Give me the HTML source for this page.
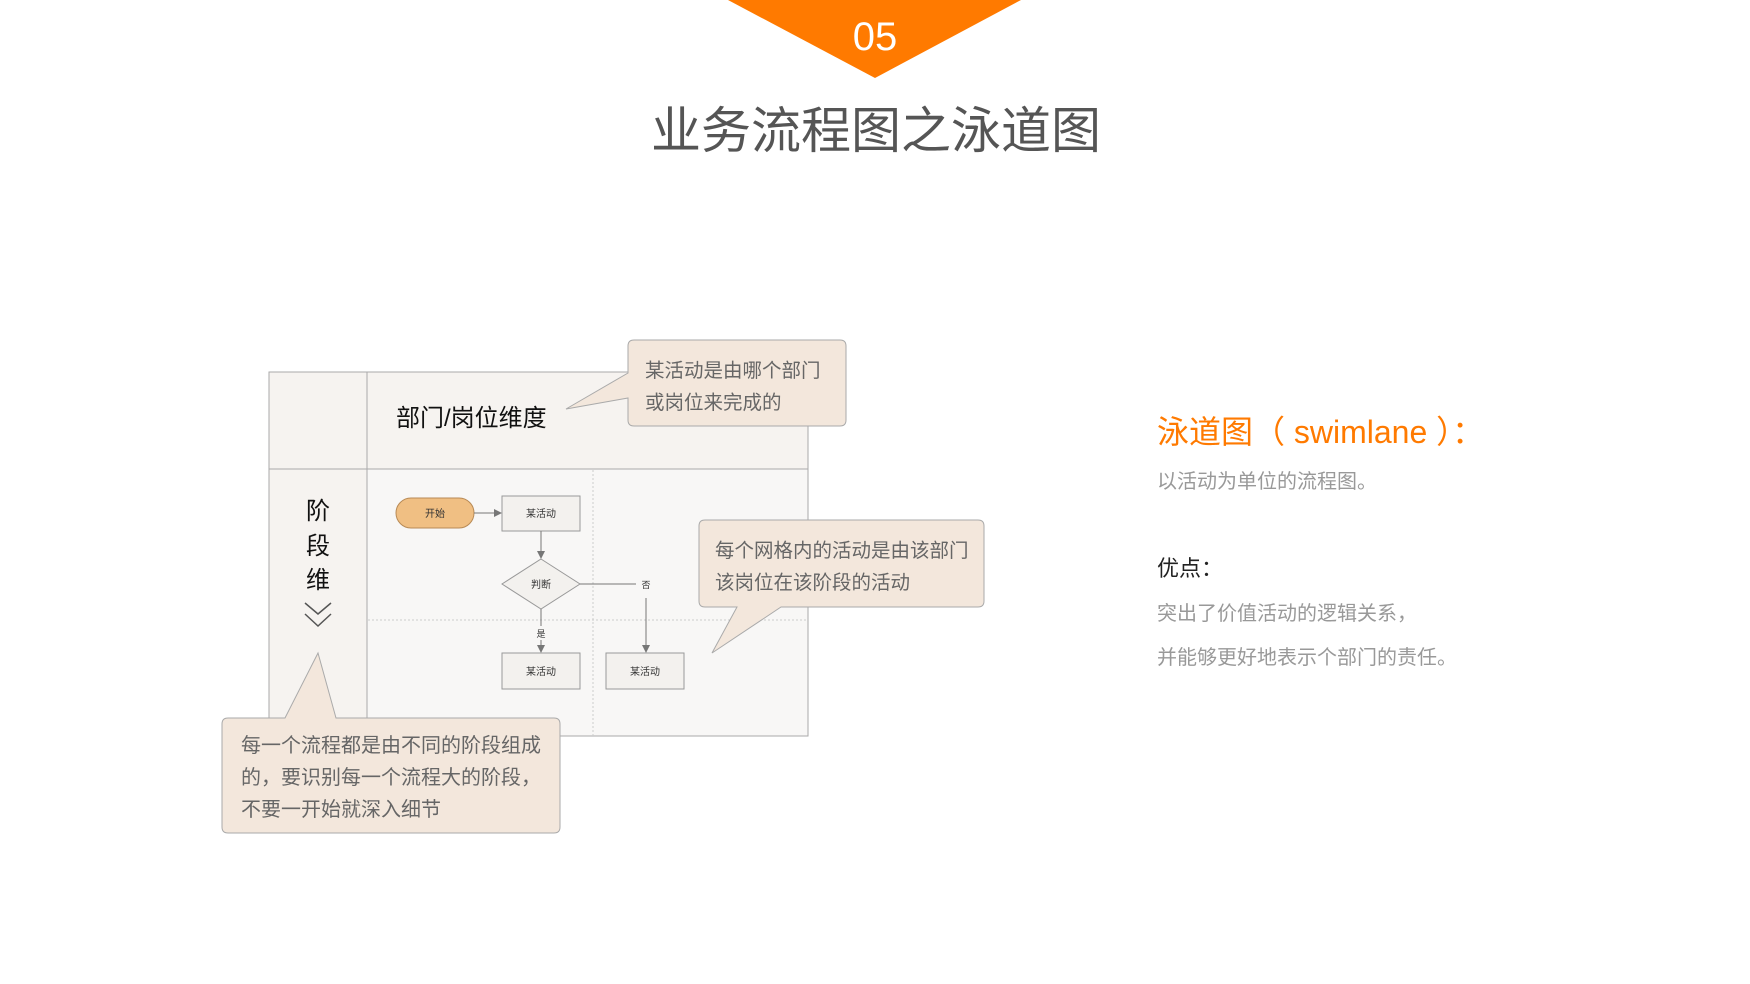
<!DOCTYPE html>
<html><head><meta charset="utf-8"><style>
body{margin:0;width:1750px;height:984px;background:#fff;overflow:hidden;position:relative;font-family:"Liberation Sans","Noto Sans CJK SC",sans-serif}
.t{position:absolute;white-space:nowrap;line-height:1}
</style></head><body>
<svg width="1750" height="984" style="position:absolute;left:0;top:0" font-family="Liberation Sans, Noto Sans CJK SC, sans-serif">
<defs><marker id="a" markerWidth="8" markerHeight="8" refX="7" refY="4" orient="auto" markerUnits="userSpaceOnUse"><path d="M0,0 L8,4 L0,8z" fill="#777"/></marker></defs>
<polygon points="728,0 1021,0 875,78" fill="#ff7a00"/>
<text x="875" y="50" fill="#fff" font-size="40" text-anchor="middle">05</text>
<!-- table -->
<rect x="269" y="372" width="539" height="364" fill="#f8f7f6" stroke="#aaa"/>
<rect x="269" y="372" width="539" height="97" fill="#f6f3f0" stroke="#aaa"/>
<rect x="269" y="469" width="98" height="267" fill="#f6f3f0" stroke="#aaa"/>
<line x1="367" y1="372" x2="367" y2="736" stroke="#aaa"/>
<line x1="593" y1="470" x2="593" y2="736" stroke="#ccc" stroke-dasharray="2,2"/>
<line x1="368" y1="620" x2="808" y2="620" stroke="#ccc" stroke-dasharray="2,2"/>
<polyline points="305,603 318,614 331,603" fill="none" stroke="#555" stroke-width="1.5"/>
<polyline points="305,614 318,626 331,614" fill="none" stroke="#555" stroke-width="1.5"/>
<!-- nodes -->
<rect x="396" y="498" width="78" height="30" rx="15" fill="#f0bf83" stroke="#b88a55"/>
<text x="435" y="517" font-size="10" text-anchor="middle" fill="#333">开始</text>
<rect x="502" y="496" width="78" height="35" fill="#f3f1ee" stroke="#999"/>
<text x="541" y="517" font-size="10" text-anchor="middle" fill="#333">某活动</text>
<line x1="474" y1="513" x2="501" y2="513" stroke="#777" marker-end="url(#a)"/>
<line x1="541" y1="531" x2="541" y2="558" stroke="#777" marker-end="url(#a)"/>
<polygon points="541,559 580,584 541,609 502,584" fill="#f3f1ee" stroke="#999"/>
<text x="541" y="588" font-size="10" text-anchor="middle" fill="#333">判断</text>
<line x1="580" y1="584" x2="636" y2="584" stroke="#777"/>
<text x="646" y="588" font-size="9" text-anchor="middle" fill="#333">否</text>
<line x1="646" y1="598" x2="646" y2="652" stroke="#777" marker-end="url(#a)"/>
<line x1="541" y1="609" x2="541" y2="626" stroke="#777"/>
<text x="541" y="637" font-size="9" text-anchor="middle" fill="#333">是</text>
<line x1="541" y1="640" x2="541" y2="652" stroke="#777" marker-end="url(#a)"/>
<rect x="502" y="653" width="78" height="36" fill="#f3f1ee" stroke="#999"/>
<text x="541" y="675" font-size="10" text-anchor="middle" fill="#333">某活动</text>
<rect x="606" y="653" width="78" height="36" fill="#f3f1ee" stroke="#999"/>
<text x="645" y="675" font-size="10" text-anchor="middle" fill="#333">某活动</text>
<!-- callouts -->
<path d="M634,340 H840 Q846,340 846,346 V420 Q846,426 840,426 H634 Q628,426 628,420 V398 L566,409 L628,373 V346 Q628,340 634,340Z" fill="#f3e7dc" stroke="#aaa"/>
<path d="M705,520 H978 Q984,520 984,526 V601 Q984,607 978,607 H781 L712,653 L737,607 H705 Q699,607 699,601 V526 Q699,520 705,520Z" fill="#f3e7dc" stroke="#aaa"/>
<path d="M228,718 H285 L318,653 L336,718 H554 Q560,718 560,724 V827 Q560,833 554,833 H228 Q222,833 222,827 V724 Q222,718 228,718Z" fill="#f3e7dc" stroke="#aaa"/>
</svg>
<div class="t" style="left:651px;top:106px;width:448px;text-align:center;font-size:50px;color:#555">业务流程图之泳道图</div>
<div class="t" style="left:396px;top:407px;font-size:24px;color:#111">部门/岗位维度</div>
<div class="t" style="left:306px;top:500px;font-size:24px;color:#111">阶</div>
<div class="t" style="left:306px;top:535px;font-size:24px;color:#111">段</div>
<div class="t" style="left:306px;top:569px;font-size:24px;color:#111">维</div>
<div class="t" style="left:645px;top:355px;font-size:19.5px;color:#666;line-height:32px">某活动是由哪个部门<br>或岗位来完成的</div>
<div class="t" style="left:715px;top:535px;font-size:19.5px;color:#666;line-height:32px">每个网格内的活动是由该部门<br>该岗位在该阶段的活动</div>
<div class="t" style="left:241px;top:730px;font-size:20px;color:#666;line-height:32px">每一个流程都是由不同的阶段组成<br>的，要识别每一个流程大的阶段，<br>不要一开始就深入细节</div>
<div class="t" style="left:1157px;top:416px;font-size:32px;color:#ff7a00">泳道图（ swimlane ）：</div>
<div class="t" style="left:1157px;top:472px;font-size:20px;color:#999">以活动为单位的流程图。</div>
<div class="t" style="left:1157px;top:558px;font-size:22px;color:#222">优点：</div>
<div class="t" style="left:1157px;top:604px;font-size:20px;color:#999">突出了价值活动的逻辑关系，</div>
<div class="t" style="left:1157px;top:648px;font-size:20px;color:#999">并能够更好地表示个部门的责任。</div>
</body></html>
